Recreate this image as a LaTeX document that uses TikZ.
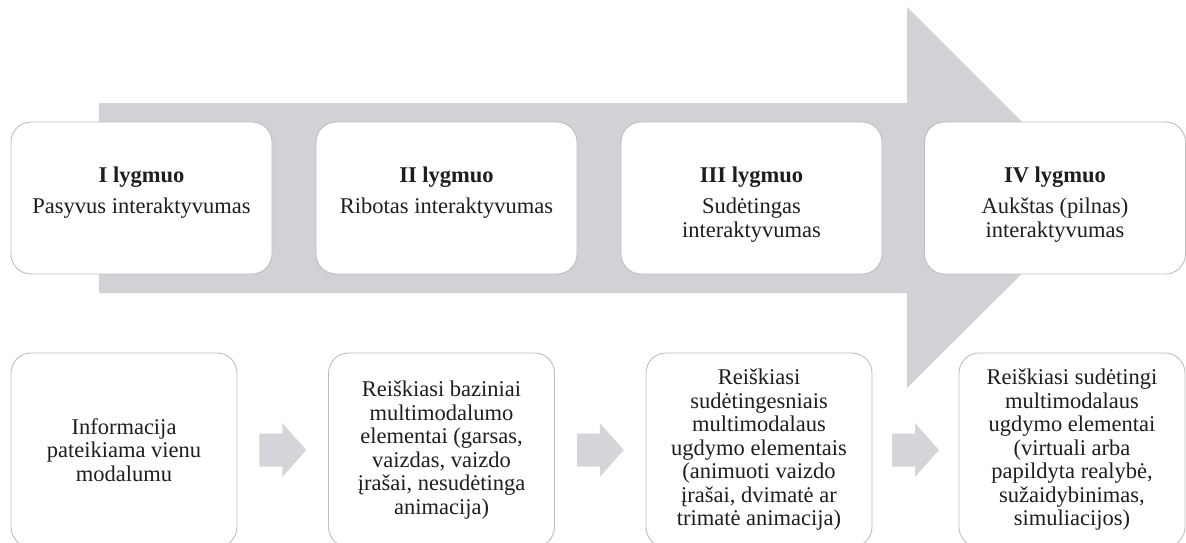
\documentclass[tikz,border=0pt]{standalone}
\usepackage{fontspec}
\setmainfont{Liberation Serif}
\usetikzlibrary{calc}

\definecolor{flowgray}{HTML}{D0D2D5}
\definecolor{stepgray}{HTML}{D4D5D8}
\definecolor{edgegray}{HTML}{BEBEBE}
\definecolor{ink}{HTML}{1E1E1E}

\begin{document}
\begin{tikzpicture}[x=1pt,y=-1pt,
  levelbox/.style={draw=edgegray, line width=0.9pt, fill=white, rounded corners=20pt,
    minimum width=261pt, minimum height=152pt, inner sep=0pt},
  detailbox/.style={draw=edgegray, line width=0.9pt, fill=white, rounded corners=20pt,
    minimum width=226pt, minimum height=194pt, inner sep=0pt, align=center,
    font=\fontsize{22.5}{23.5}\selectfont, text=ink},
  leveltext/.style={anchor=north, align=center, inner sep=0pt,
    font=\fontsize{22.5}{24}\selectfont, text=ink},
  stepfill/.style={fill=stepgray}
]
\useasboundingbox (0,0) rectangle (1186,542);

% large background arrow
\fill[flowgray] (99,103) -- (907,103) -- (907,7) -- (1098,198) -- (907,388)
  -- (907,293) -- (99,293) -- cycle;

% level boxes
\node[levelbox] (l1) at (141.5,198) {};
\node[levelbox] (l2) at (446.5,198) {};
\node[levelbox] (l3) at (751.5,198) {};
\node[levelbox] (l4) at (1055,198) {};

\node[leveltext] (l1t) at (l1.center |- 0,167) {\textbf{I lygmuo}\\[7pt]Pasyvus interaktyvumas};
\node[leveltext] (l2t) at (l2.center |- 0,167) {\textbf{II lygmuo}\\[7pt]Ribotas interaktyvumas};
\node[leveltext] (l3t) at (l3.center |- 0,167) {\textbf{III lygmuo}\\[7pt]Sudėtingas\\interaktyvumas};
\node[leveltext] (l4t) at (l4.center |- 0,167) {\textbf{IV lygmuo}\\[7pt]Aukštas (pilnas)\\interaktyvumas};

% detail boxes
\node[detailbox] (d1) at (124,450) {Informacija\\pateikiama vienu\\modalumu};
\node[detailbox] (d2) at (441.5,450) {Reiškiasi baziniai\\multimodalumo\\elementai (garsas,\\vaizdas, vaizdo\\įrašai, nesudėtinga\\animacija)};
\node[detailbox] (d3) at (759,450) {Reiškiasi\\sudėtingesniais\\multimodalaus\\ugdymo elementais\\(animuoti vaizdo\\įrašai, dvimatė ar\\trimatė animacija)};
\node[detailbox] (d4) at (1072,450) {Reiškiasi sudėtingi\\multimodalaus\\ugdymo elementai\\(virtuali arba\\papildyta realybė,\\sužaidybinimas,\\simuliacijos)};

% small arrows between detail boxes
\foreach \a/\b in {d1/d2, d2/d3, d3/d4} {
  \fill[stepfill] ($(\a.east)!0.5!(\b.west)$) ++(-23.5,-16.5) -- ++(23,0) -- ++(0,-10.5)
    -- ++(24,27) -- ++(-24,27) -- ++(0,-10.5) -- ++(-23,0) -- cycle;
}
\end{tikzpicture}
\end{document}
